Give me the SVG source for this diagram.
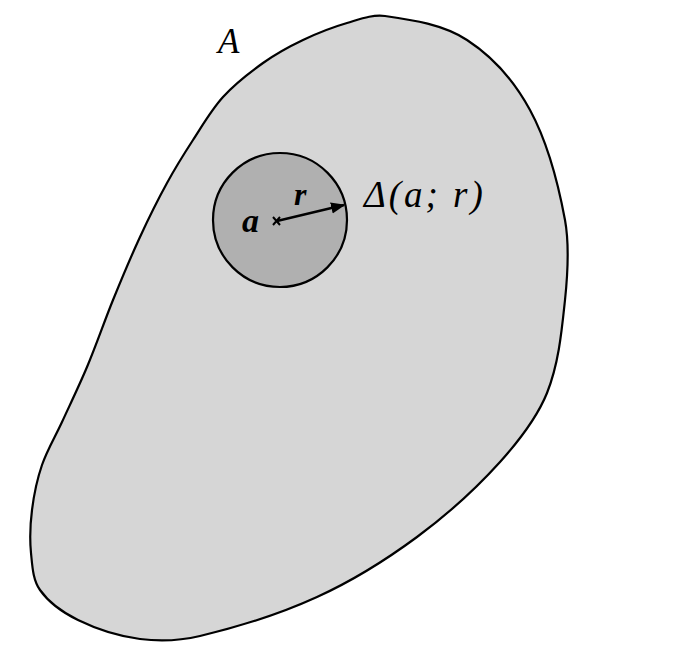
<svg xmlns="http://www.w3.org/2000/svg" width="696" height="655" viewBox="0 0 696 655">
<style>
.outline{stroke:#000;stroke-width:2.2;}
.lbl{font-family:"Liberation Serif","DejaVu Serif",serif;font-style:italic;fill:#000;}
.bold{font-weight:bold;}
</style>
<defs>
<marker id="ah" viewBox="0 0 10 10" refX="9" refY="5" markerWidth="6" markerHeight="6" markerUnits="strokeWidth" orient="auto">
<path d="M0,1 L10,5 L0,9 z" fill="#000"/>
</marker>
</defs>
<rect width="696" height="655" fill="#fff"/>
<g id="regionA">
<path class="outline" fill="#d6d6d6" d="M385,16 C413.2,20 443.1,24.5 467,40 C493.3,57.1 515,82.4 530,110 C548.4,143.8 558,182.2 565,220 C569.8,246.2 567.8,273.5 565,300 C561.7,331.4 558.7,363.7 547,393 C536.6,418.8 518.6,441.3 500,462 C475,489.7 447,514.8 417,537 C385.7,560.1 352.4,580.9 317,597 C279.6,614.1 240,626.5 200,636 C180.5,640.6 159.8,641.6 140,639 C118.6,636.2 97.4,629.5 78,620 C63.5,612.9 49.3,603.2 40,590 C32.7,579.6 32.3,565.6 31,553 C29.6,538.7 30.2,524.2 32,510 C33.9,494.8 37,479.5 42,465 C47.1,450.1 55.4,436.4 62,422 C70.4,403.7 79.2,385.6 87,367 C96.3,344.9 104,322.2 113,300 C121.6,278.9 130.4,257.7 140,237 C148.4,218.7 157.3,200.7 167,183 C175,168.3 183.9,154 193,140 C202.5,125.4 211.3,109.9 223,97 C234.8,84 248.7,73.2 263,63 C275.5,54.1 289.1,46.6 303,40 C317.2,33.2 331.9,27.4 347,23 C359.4,19.4 372.3,14.2 385,16 Z"/>
<text class="lbl" x="218" y="53" font-size="35">A</text>
</g>
<g id="disc">
<circle class="outline" cx="280" cy="220" r="67" fill="#b0b0b0"/>
<text class="lbl bold" x="242" y="232" font-size="34">a</text>
<text class="lbl bold" x="294" y="205" font-size="32">r</text>
<path d="M273,217 L280,225 M273,225 L280,217" stroke="#000" stroke-width="2"/>
<text class="lbl" x="364" y="207" font-size="37" letter-spacing="3">Δ(a; r)</text>
</g>
<g id="connectors">
<line x1="277" y1="221" x2="344" y2="205" stroke="#000" stroke-width="2.4" marker-end="url(#ah)"/>
</g>
</svg>
